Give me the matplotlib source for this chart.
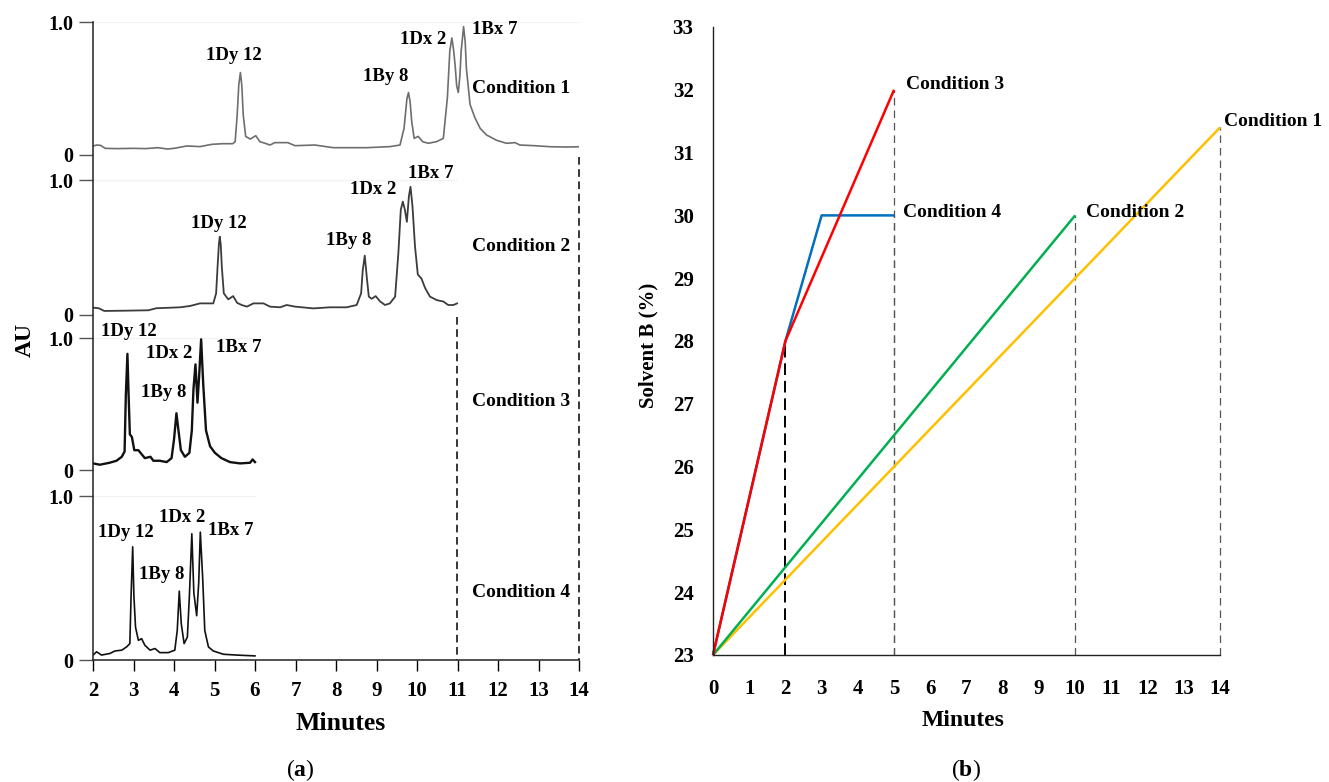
import matplotlib
matplotlib.use('Agg')
import matplotlib.pyplot as plt

plt.rcParams['font.family'] = ['Liberation Serif', 'DejaVu Serif']
plt.rcParams['mathtext.fontset'] = 'custom'
plt.rcParams['mathtext.rm'] = 'Liberation Serif'
plt.rcParams['mathtext.bf'] = 'Liberation Serif:bold'

W, H = 1329, 782

# chromatograms (minutes, AU)
cond1_t = [2.0, 2.1, 2.19, 2.3, 2.6, 3.0, 3.3, 3.6, 3.84, 4.0, 4.32, 4.64, 4.93, 5.2, 5.45, 5.51, 5.56, 5.60,
           5.64, 5.675, 5.71, 5.77, 5.88, 6.02, 6.12, 6.25, 6.37, 6.49, 6.81, 6.99, 7.48, 7.93, 8.4, 8.76, 9.33,
           9.58, 9.68, 9.75, 9.79, 9.83, 9.87, 9.93, 10.03, 10.14, 10.28, 10.48, 10.65, 10.75, 10.81, 10.86,
           10.90, 10.94, 10.98, 11.02, 11.06, 11.09, 11.15, 11.19, 11.22, 11.31, 11.43, 11.56, 11.72, 11.97,
           12.21, 12.42, 12.54, 12.9, 13.3, 13.7, 14.0]
cond1_au = [0.068, 0.075, 0.072, 0.05, 0.048, 0.05, 0.048, 0.055, 0.045, 0.05, 0.068, 0.063, 0.08, 0.085, 0.085,
            0.10, 0.30, 0.53, 0.62, 0.52, 0.30, 0.14, 0.12, 0.145, 0.10, 0.088, 0.075, 0.093, 0.093, 0.07, 0.075,
            0.055, 0.055, 0.055, 0.063, 0.075, 0.20, 0.42, 0.47, 0.40, 0.25, 0.125, 0.14, 0.10, 0.088, 0.10,
            0.125, 0.43, 0.78, 0.88, 0.80, 0.68, 0.52, 0.47, 0.60, 0.78, 0.965, 0.85, 0.65, 0.38, 0.28, 0.20,
            0.15, 0.11, 0.088, 0.093, 0.075, 0.07, 0.062, 0.06, 0.062]

cond2_t = [2.0, 2.14, 2.28, 2.8, 3.37, 3.56, 4.15, 4.40, 4.64, 4.97, 5.04, 5.08, 5.11, 5.13, 5.155, 5.18, 5.23,
           5.34, 5.46, 5.56, 5.67, 5.80, 5.96, 6.21, 6.37, 6.62, 6.78, 6.99, 7.44, 7.85, 8.26, 8.51, 8.62, 8.66,
           8.71, 8.76, 8.81, 8.88, 8.98, 9.09, 9.21, 9.33, 9.46, 9.54, 9.60, 9.65, 9.70, 9.75, 9.80, 9.84, 9.89,
           9.95, 10.02, 10.11, 10.20, 10.32, 10.49, 10.65, 10.77, 10.90, 10.99]
cond2_au = [0.055, 0.05, 0.03, 0.032, 0.035, 0.05, 0.057, 0.067, 0.086, 0.086, 0.16, 0.38, 0.53, 0.58, 0.52,
            0.36, 0.16, 0.116, 0.14, 0.09, 0.074, 0.062, 0.086, 0.086, 0.062, 0.057, 0.074, 0.062, 0.049, 0.057,
            0.057, 0.074, 0.16, 0.33, 0.44, 0.28, 0.136, 0.12, 0.14, 0.10, 0.074, 0.086, 0.136, 0.46, 0.78, 0.84,
            0.78, 0.69, 0.88, 0.95, 0.80, 0.51, 0.30, 0.27, 0.20, 0.136, 0.11, 0.10, 0.074, 0.074, 0.086]

cond3_t = [2.0, 2.17, 2.41, 2.58, 2.71, 2.78, 2.81, 2.85, 2.88, 2.91, 2.96, 3.02, 3.12, 3.2, 3.28, 3.42, 3.49,
           3.65, 3.82, 3.94, 4.0, 4.06, 4.11, 4.17, 4.27, 4.38, 4.44, 4.48, 4.53, 4.58, 4.62, 4.67, 4.72, 4.79,
           4.89, 5.01, 5.17, 5.38, 5.63, 5.88, 5.94, 6.0]
cond3_au = [0.05, 0.04, 0.055, 0.07, 0.10, 0.14, 0.56, 0.88, 0.56, 0.27, 0.25, 0.15, 0.15, 0.12, 0.09, 0.10,
            0.07, 0.07, 0.06, 0.09, 0.23, 0.43, 0.30, 0.15, 0.10, 0.13, 0.30, 0.61, 0.80, 0.51, 0.71, 0.99, 0.66,
            0.30, 0.18, 0.13, 0.09, 0.06, 0.05, 0.055, 0.08, 0.06]

cond4_t = [2.0, 2.09, 2.21, 2.42, 2.54, 2.71, 2.83, 2.91, 2.94, 2.98, 3.01, 3.05, 3.12, 3.2, 3.28, 3.41, 3.53,
           3.65, 3.86, 4.02, 4.08, 4.13, 4.18, 4.25, 4.33, 4.38, 4.44, 4.49, 4.56, 4.61, 4.65, 4.71, 4.76, 4.85,
           4.97, 5.22, 5.55, 6.0]
cond4_au = [0.03, 0.05, 0.03, 0.04, 0.055, 0.06, 0.08, 0.10, 0.39, 0.69, 0.39, 0.20, 0.12, 0.13, 0.09, 0.06,
            0.07, 0.045, 0.045, 0.06, 0.18, 0.42, 0.22, 0.10, 0.14, 0.39, 0.77, 0.41, 0.27, 0.47, 0.78, 0.49,
            0.18, 0.08, 0.055, 0.035, 0.03, 0.025]

peak_names = ['1Dy 12', '1By 8', '1Dx 2', '1Bx 7']
conditions = ['Condition 1', 'Condition 2', 'Condition 3', 'Condition 4']

# gradient programmes (minutes, solvent B %)
grad1_t, grad1_b = [0, 14], [23, 31.4]
grad2_t, grad2_b = [0, 10], [23, 30]
grad3_t, grad3_b = [0, 2, 5], [23, 28, 32]
grad4_t, grad4_b = [0, 2, 3, 5], [23, 28, 30, 30]

# layout of the stacked traces: zero level (px above x axis) and px per AU
stack_base = [505, 345, 190, 0]
stack_scale = [133, 135, 132, 164]
trace_color = ['#6e6e6e', '#3c3c3c', '#111111', '#111111']
trace_lw = [1.2, 1.3, 1.7, 1.2]
label_pos = [
    [(5.48, 0.75), (9.23, 0.59), (10.14, 0.865), (11.93, 0.94)],
    [(5.11, 0.68), (8.32, 0.55), (8.92, 0.93), (10.35, 1.05)],
    [(2.88, 1.05), (3.74, 0.585), (3.88, 0.88), (5.61, 0.93)],
    [(2.80, 0.78), (3.70, 0.52), (4.21, 0.87), (5.39, 0.79)],
]
cond_label_y = [0.50, 0.51, 0.52, 0.41]


def px_box(x0, y0, x1, y1):
    return [x0 / W, 1 - y1 / H, (x1 - x0) / W, (y1 - y0) / H]


fig = plt.figure(figsize=(W / 100, H / 100), dpi=100)

# ---- (a) chromatograms ----
ax1 = fig.add_axes(px_box(93, 22, 579, 660))
traces = [(cond1_t, cond1_au), (cond2_t, cond2_au), (cond3_t, cond3_au), (cond4_t, cond4_au)]
yticks, ylabels = [], []
for i, (t, au) in enumerate(traces):
    base, sc = stack_base[i], stack_scale[i]
    ax1.plot(t, [base + sc * a for a in au], color=trace_color[i], lw=trace_lw[i])
    ax1.plot([t[0], t[-1]], [base + sc, base + sc], color='#f2f2f2', lw=0.8, zorder=0)
    for name, (lx, ly) in zip(peak_names, label_pos[i]):
        ax1.text(lx, base + sc * ly, name, ha='center', va='center', fontsize=13.5, weight='bold')
    ax1.text(11.37, base + sc * cond_label_y[i], conditions[i], ha='left', va='center',
             fontsize=14, weight='bold')
    yticks += [base, base + sc]
    ylabels += ['0', '1.0']

# dashed end markers for the longer runs
for i in (0, 1):
    t_end = traces[i][0][-1]
    ax1.plot([t_end, t_end], [stack_base[i] - 2, 0], color='black', lw=1.1, ls=(0, (5, 3)), clip_on=False)

ax1.set_xlim(2, 14)
ax1.set_ylim(0, 638)
ax1.set_xticks(range(2, 15))
ax1.set_yticks(yticks)
ax1.set_yticklabels(ylabels)
for s in ('top', 'right'):
    ax1.spines[s].set_visible(False)
for s in ('left', 'bottom'):
    ax1.spines[s].set_color('#222222')
    ax1.spines[s].set_linewidth(1.1)
ax1.tick_params(axis='y', length=10, width=1, color='#555555', pad=4, labelsize=14.5)
ax1.tick_params(axis='x', length=8, width=1, pad=7, labelsize=15)
for lab in ax1.get_xticklabels() + ax1.get_yticklabels():
    lab.set_fontweight('bold')

fig.text(25 / W, 1 - 340 / H, 'AU', rotation=90, ha='center', va='center', fontsize=17, weight='bold')
fig.text(341 / W, 1 - 723 / H, 'Minutes', ha='center', va='center', fontsize=18.5, weight='bold')
fig.text(300 / W, 1 - 770 / H, r'($\mathbf{a}$)', ha='center', va='center', fontsize=17)

# ---- (b) gradients ----
ax2 = fig.add_axes(px_box(713, 27, 1220, 655))
grads = [(grad1_t, grad1_b, '#FFC000'), (grad2_t, grad2_b, '#00B050'),
         (grad4_t, grad4_b, '#0070C0'), (grad3_t, grad3_b, '#FF0000')]
for t, b, c in grads:
    ax2.plot(t, b, color=c, lw=1.8, solid_capstyle='butt', clip_on=False)
    ax2.plot([t[-1], t[-1]], [23, b[-1]], color='#555555', lw=0.9, ls=(0, (6, 4)), zorder=0, clip_on=False)
# step change of conditions 3 and 4 at 2 min
ax2.plot([grad3_t[1], grad3_t[1]], [23, grad3_b[1]], color='black', lw=1.4, ls=(0, (6, 3)), zorder=0)

ax2.text(grad3_t[-1] + 0.32, grad3_b[-1] + 0.08, conditions[2], ha='left', va='center', fontsize=14, weight='bold')
ax2.text(grad4_t[-1] + 0.25, grad4_b[-1] + 0.05, conditions[3], ha='left', va='center', fontsize=14, weight='bold')
ax2.text(grad2_t[-1] + 0.3, grad2_b[-1] + 0.05, conditions[1], ha='left', va='center', fontsize=14, weight='bold')
ax2.text(grad1_t[-1] + 0.1, grad1_b[-1] + 0.1, conditions[0], ha='left', va='center', fontsize=14, weight='bold')

ax2.set_xlim(0, 14)
ax2.set_ylim(23, 33)
ax2.set_xticks(range(0, 15))
ax2.set_yticks(range(23, 34))
for s in ('top', 'right'):
    ax2.spines[s].set_visible(False)
for s in ('left', 'bottom'):
    ax2.spines[s].set_color('#222222')
    ax2.spines[s].set_linewidth(1.0)
ax2.tick_params(axis='y', length=0, pad=14, labelsize=15)
ax2.tick_params(axis='x', length=0, pad=17, labelsize=15)
for lab in ax2.get_xticklabels() + ax2.get_yticklabels():
    lab.set_fontweight('bold')

fig.text(648 / W, 1 - 345 / H, 'Solvent B (%)', rotation=90, ha='center', va='center', fontsize=15, weight='bold')
fig.text(963 / W, 1 - 720 / H, 'Minutes', ha='center', va='center', fontsize=17, weight='bold')
fig.text(966 / W, 1 - 770 / H, r'($\mathbf{b}$)', ha='center', va='center', fontsize=17)

fig.savefig('out.png', dpi=100)
